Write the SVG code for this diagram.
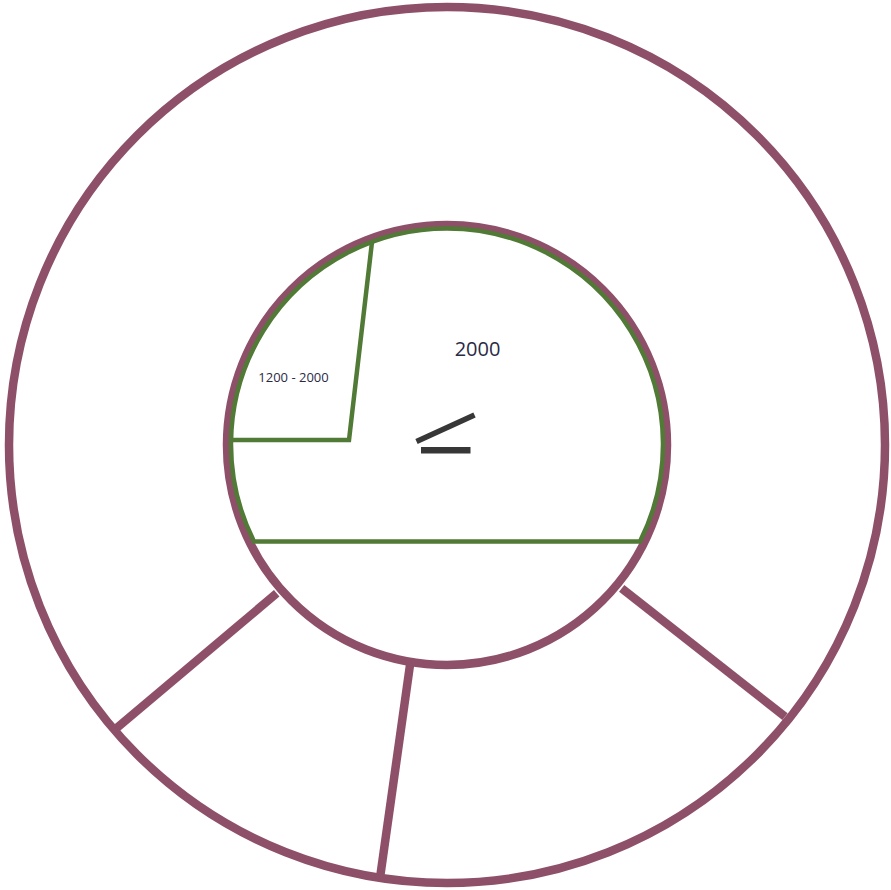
<svg xmlns="http://www.w3.org/2000/svg" width="891" height="890" viewBox="0 0 891 890">
<style>
.pink{fill:none;stroke:#8e5068;stroke-width:8.5;stroke-linecap:butt}
.green{fill:none;stroke:#507a36;stroke-width:4.5;stroke-linejoin:miter}
.lbl{font-family:"Open Sans","Liberation Sans",sans-serif;fill:#2a2a45;text-anchor:middle}
.mark{fill:#373737;stroke:none}
</style>
<rect width="891" height="890" fill="#ffffff"/>
<g id="outer-ring">
<circle class="pink" cx="447" cy="445" r="438"/>
</g>
<g id="connectors">
<line class="pink" x1="276.7" y1="593.3" x2="116.7" y2="728"/>
<line class="pink" x1="410" y1="665" x2="380" y2="878"/>
<line class="pink" x1="621.7" y1="588.3" x2="785" y2="716.7"/>
</g>
<g id="inner-circle">
<circle class="pink" cx="447" cy="445" r="220"/>
</g>
<g id="region-2000">
<path class="green" d="M254 541.5 A216 216 0 1 1 640 541.5 Z"/>
<text class="lbl" x="477.5" y="356" font-size="20">2000</text>
</g>
<g id="region-1200-2000">
<path class="green" d="M231.5 440 L349 440 L372 242"/>
<text class="lbl" x="293.5" y="382" font-size="13">1200 - 2000</text>
</g>
<g id="mark">
<line x1="416.5" y1="441.5" x2="474.5" y2="415" stroke="#373737" stroke-width="5.5"/>
<rect class="mark" x="421" y="447" width="49.5" height="6.5"/>
</g>
</svg>
